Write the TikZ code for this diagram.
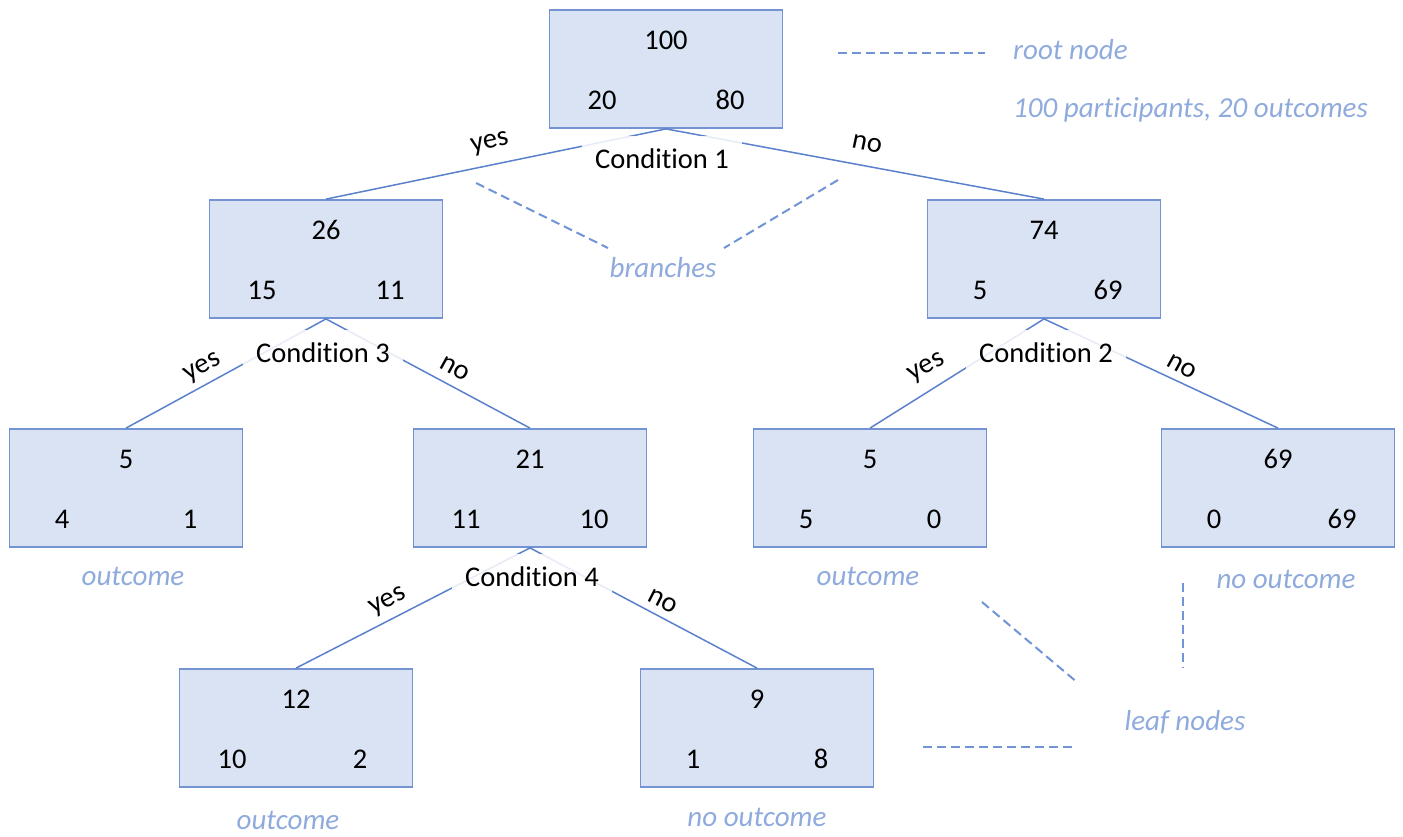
\documentclass[tikz,border=0pt]{standalone}
\usepackage{fontspec}
\setmainfont{Carlito}[Ligatures=NoCommon]
\usetikzlibrary{calc}
\definecolor{boxfill}{HTML}{DAE3F3}
\definecolor{boxdraw}{HTML}{7393D3}
\definecolor{edgec}{HTML}{5B80CC}
\definecolor{annot}{HTML}{8FAADC}
\definecolor{dashc}{HTML}{7094D6}
\tikzset{
  tbox/.style={draw=boxdraw, fill=boxfill, line width=1.8pt, minimum width=233pt, minimum height=118pt, inner sep=0pt},
  num/.style={font=\fontsize{28.5}{31}\selectfont, text=black, inner sep=0pt},
  branch/.style={draw=edgec, line width=1.5pt},
  cond/.style={fill=white, fill opacity=0.85, text opacity=1, minimum width=160pt, minimum height=46pt, font=\fontsize{28.5}{31}\selectfont, inner sep=0pt},
  yn/.style={font=\fontsize{28.5}{31}\selectfont, inner sep=0pt},
  ann/.style={font=\fontsize{29}{32}\selectfont\itshape, text=annot, inner sep=0pt},
  annline/.style={draw=dashc, line width=2pt, dash pattern=on 9pt off 5pt},
}
\newcommand{\treebox}[6]{%
  \node[tbox] (#1) at (#2,#3) {};
  \node[num] (#1t) at ($(#1.center)+(0,-29)$) {#4};
  \node[num] (#1l) at ($(#1.center)+(-64,31)$) {#5};
  \node[num] (#1r) at ($(#1.center)+(64,31)$) {#6};
}
\begin{document}
\begin{tikzpicture}[x=1pt,y=-1pt]
\useasboundingbox (0,0) rectangle (1403,836);
% boxes
\treebox{root}{666}{69}{100}{20}{80}
\treebox{a}{326}{259}{26}{15}{11}
\treebox{b}{1044}{259}{74}{5}{69}
\treebox{c}{126}{488}{5}{4}{1}
\treebox{d}{530}{488}{21}{11}{10}
\treebox{e}{870}{488}{5}{5}{0}
\treebox{f}{1278}{488}{69}{0}{69}
\treebox{g}{296}{728}{12}{10}{2}
\treebox{h}{757}{728}{9}{1}{8}
% branches
\draw[branch] (root.south) -- (a.north);
\draw[branch] (root.south) -- (b.north);
\draw[branch] (a.south) -- (c.north);
\draw[branch] (a.south) -- (d.north);
\draw[branch] (b.south) -- (e.north);
\draw[branch] (b.south) -- (f.north);
\draw[branch] (d.south) -- (g.north);
\draw[branch] (d.south) -- (h.north);
% condition labels
\node[cond] (c1) at (662,159) {Condition 1};
\node[cond] (c3) at (323,353) {Condition 3};
\node[cond] (c2) at (1046,353) {Condition 2};
\node[cond] (c4) at (532,577) {Condition 4};
% yes / no
\node[yn, rotate=12] (y1) at (490,144) {yes};
\node[yn, rotate=-12] (n1) at (867,144) {no};
\node[yn, rotate=29] (y3) at (203,368) {yes};
\node[yn, rotate=-29] (n3) at (455,369) {no};
\node[yn, rotate=29] (y2) at (927,368) {yes};
\node[yn, rotate=-29] (n2) at (1182,367) {no};
\node[yn, rotate=27] (y4) at (388,602) {yes};
\node[yn, rotate=-27] (n4) at (663,601) {no};
% annotations
\node[ann, anchor=west] (rootlbl) at (1013,50) {root node};
\node[ann, anchor=west] (partlbl) at (1013,110) {100 participants, 20 outcomes};
\node[ann] (brlbl) at (663,268) {branches};
\node[ann] (o1) at (133,576) {outcome};
\node[ann] (o2) at (868,576) {outcome};
\node[ann] (o3) at (1286,579) {no outcome};
\node[ann] (o4) at (288,820) {outcome};
\node[ann] (o5) at (757,817) {no outcome};
\node[ann] (leaflbl) at (1185,722) {leaf nodes};
\coordinate (r1) at (838,53); \coordinate (r2) at (985,53);
\draw[annline] (r1) -- (r2);
\coordinate (b1) at (476,183); \coordinate (b2) at (608,248);
\coordinate (b3) at (838,180); \coordinate (b4) at (724,248);
\draw[annline] (b1) -- (b2);
\draw[annline] (b3) -- (b4);
\coordinate (l1) at (982,602); \coordinate (l2) at (1078,683);
\coordinate (l3) at (1183,583); \coordinate (l4) at (1183,668);
\coordinate (l5) at (923,747); \coordinate (l6) at (1072,747);
\draw[annline] (l1) -- (l2);
\draw[annline] (l3) -- (l4);
\draw[annline] (l5) -- (l6);
\end{tikzpicture}
\end{document}
